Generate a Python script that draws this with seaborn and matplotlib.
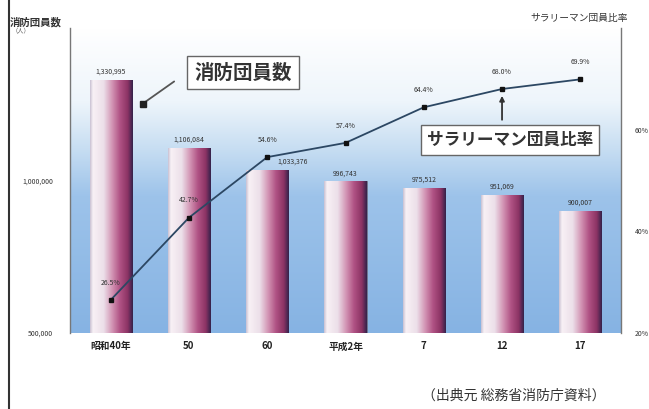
import numpy as np
import pandas as pd
import matplotlib
matplotlib.use('Agg')
import matplotlib.pyplot as plt
import seaborn as sns
from matplotlib.colors import LinearSegmentedColormap
from matplotlib.lines import Line2D

# ---- data ----
years = ["昭和40年", "50", "60", "平成2年", "7", "12", "17"]
members = [1330995, 1106084, 1033376, 996743, 975512, 951069, 900007]
ratio = [26.5, 42.7, 54.6, 57.4, 64.4, 68.0, 69.9]
member_labels = [f"{v:,}" for v in members]
ratio_labels = [f"{v:.1f}%" for v in ratio]
left_ticks = [500000, 1000000]
left_tick_labels = ["500,000", "1,000,000"]
right_ticks = [20, 40, 60]
right_tick_labels = ["20%", "40%", "60%"]

sns.set_theme(style='white')
plt.rcParams['font.family'] = ['Noto Sans CJK JP', 'DejaVu Sans']

W, H = 649, 409
fig = plt.figure(figsize=(W / 100, H / 100), dpi=100)
fig.patch.set_facecolor('white')
pos = [70 / W, 1 - 333 / H, (621 - 70) / W, (333 - 28) / H]

# background gradient
bgax = fig.add_axes(pos, zorder=0)
bg_cmap = LinearSegmentedColormap.from_list('bg', [
    (0, '#86b3e3'), (0.45, '#9dc3ea'), (0.6, '#c6ddf2'), (0.76, '#eef5fb'), (1, '#ffffff')])
grad = np.linspace(0, 1, 256).reshape(-1, 1)
bgax.imshow(grad, cmap=bg_cmap, aspect='auto', origin='lower', extent=[0, 1, 0, 1])
bgax.axis('off')

ax = fig.add_axes(pos, zorder=1)
ax.patch.set_visible(False)
df = pd.DataFrame({'year': years, 'members': members, 'ratio': ratio})
sns.barplot(data=df, x='year', y='members', ax=ax, width=0.54, color='#c0709a',
            edgecolor='none', errorbar=None, zorder=2)
ax.set_ylim(500000, 1500000)
ax.set_xlim(-0.52, 6.52)

bar_cmap = LinearSegmentedColormap.from_list('bar', [
    (0, '#c9c0d2'), (0.07, '#f8f1f5'), (0.32, '#ecdfe9'), (0.52, '#d293b3'),
    (0.7, '#b05284'), (0.88, '#8c3364'), (1, '#33224a')])
hgrad = np.linspace(0, 1, 256).reshape(1, -1)
ybot = ax.get_ylim()[0]
for p in list(ax.patches):
    x0, w, top = p.get_x(), p.get_width(), p.get_height()
    im = ax.imshow(hgrad, cmap=bar_cmap, aspect='auto', extent=[x0, x0 + w, ybot, top], zorder=3)
    im.set_clip_path(p)
    p.set_facecolor('none')
    p.set_edgecolor('#6b6b80')
    p.set_linewidth(0.6)
ax.set_ylim(500000, 1500000)
ax.set_xlim(-0.52, 6.52)

for i, (v, lab) in enumerate(zip(members, member_labels)):
    dx = 0.32 if i == 2 else 0
    ax.text(i + dx, v + 14000, lab, ha='center', va='bottom', fontsize=5, color='#333333', zorder=5)

ax.set_yticks(left_ticks)
ax.set_yticklabels(left_tick_labels)
ax.tick_params(axis='y', length=0, labelsize=5, pad=12, colors='#333333')
ax.tick_params(axis='x', length=0, labelsize=7, pad=6, colors='#222222')
for t in ax.get_xticklabels():
    t.set_fontweight('bold')
ax.set_xlabel('')
ax.set_ylabel('')
for s in ['top', 'bottom', 'right']:
    ax.spines[s].set_visible(False)
ax.spines['left'].set_color('#777777')
ax.spines['left'].set_linewidth(1.0)

# annotation box for members
ax.text(1.69, 1353000, "消防団員数", ha='center', va='center', fontsize=14, fontweight='bold',
        color='#333333', zorder=6,
        bbox=dict(boxstyle='square,pad=0.35', fc='white', ec='#666666', lw=1.0))
ax.annotate('', xy=(0.41, 1252000), xytext=(0.84, 1330000),
            arrowprops=dict(arrowstyle='-', color='#555555', lw=1.3), zorder=6)
ax.plot([0.41], [1252000], marker='s', color='#222222', markersize=4, zorder=6)

# line on right axis
ax2 = ax.twinx()
ax2.set_zorder(2)
ax2.patch.set_visible(False)
sns.pointplot(data=df, x='year', y='ratio', ax=ax2, color='#2c4763', markers='s',
              markersize=3.5, linewidth=1.3, errorbar=None)
for ln in ax2.lines:
    ln.set_markerfacecolor('#111111')
    ln.set_markeredgecolor('#111111')
ax2.set_ylim(20, 80)
ax2.set_xlim(-0.52, 6.52)
for i, (r, lab) in enumerate(zip(ratio, ratio_labels)):
    ax2.text(i, r + 2.6, lab, ha='center', va='bottom', fontsize=5, color='#333333', zorder=7)

ax2.set_yticks(right_ticks)
ax2.set_yticklabels(right_tick_labels)
ax2.tick_params(axis='y', length=0, labelsize=5, pad=10, colors='#333333')
ax2.set_ylabel('')
ax2.set_xlabel('')
for s in ['top', 'bottom', 'left']:
    ax2.spines[s].set_visible(False)
ax2.spines['right'].set_color('#777777')
ax2.spines['right'].set_linewidth(1.0)

ax2.text(5.10, 58.0, "サラリーマン団員比率", ha='center', va='center', fontsize=12, fontweight='bold',
         color='#333333', zorder=8,
         bbox=dict(boxstyle='square,pad=0.35', fc='white', ec='#666666', lw=1.0))
ax2.annotate('', xy=(5, ratio[5] - 0.8), xytext=(5, 61.4),
             arrowprops=dict(arrowstyle='-|>', color='#333333', lw=1.3, mutation_scale=7), zorder=8)

# outer texts
fig.text(8 / W + 0.003, 1 - 22 / H, "消防団員数", fontsize=7.5, fontweight='bold', color='#333333', va='center')
fig.text(12 / W, 1 - 30 / H, "（人）", fontsize=4.5, color='#555555', va='center')
fig.text(530 / W, 1 - 18 / H, "サラリーマン団員比率", fontsize=7, color='#333333', va='center')
fig.text(514 / W, 1 - 396 / H, "（出典元 総務省消防庁資料）", fontsize=10, color='#333333',
         ha='center', va='center')
fig.add_artist(Line2D([9 / W, 9 / W], [0, 1], color='#333333', lw=1.5))

fig.savefig('out.png', dpi=100)
